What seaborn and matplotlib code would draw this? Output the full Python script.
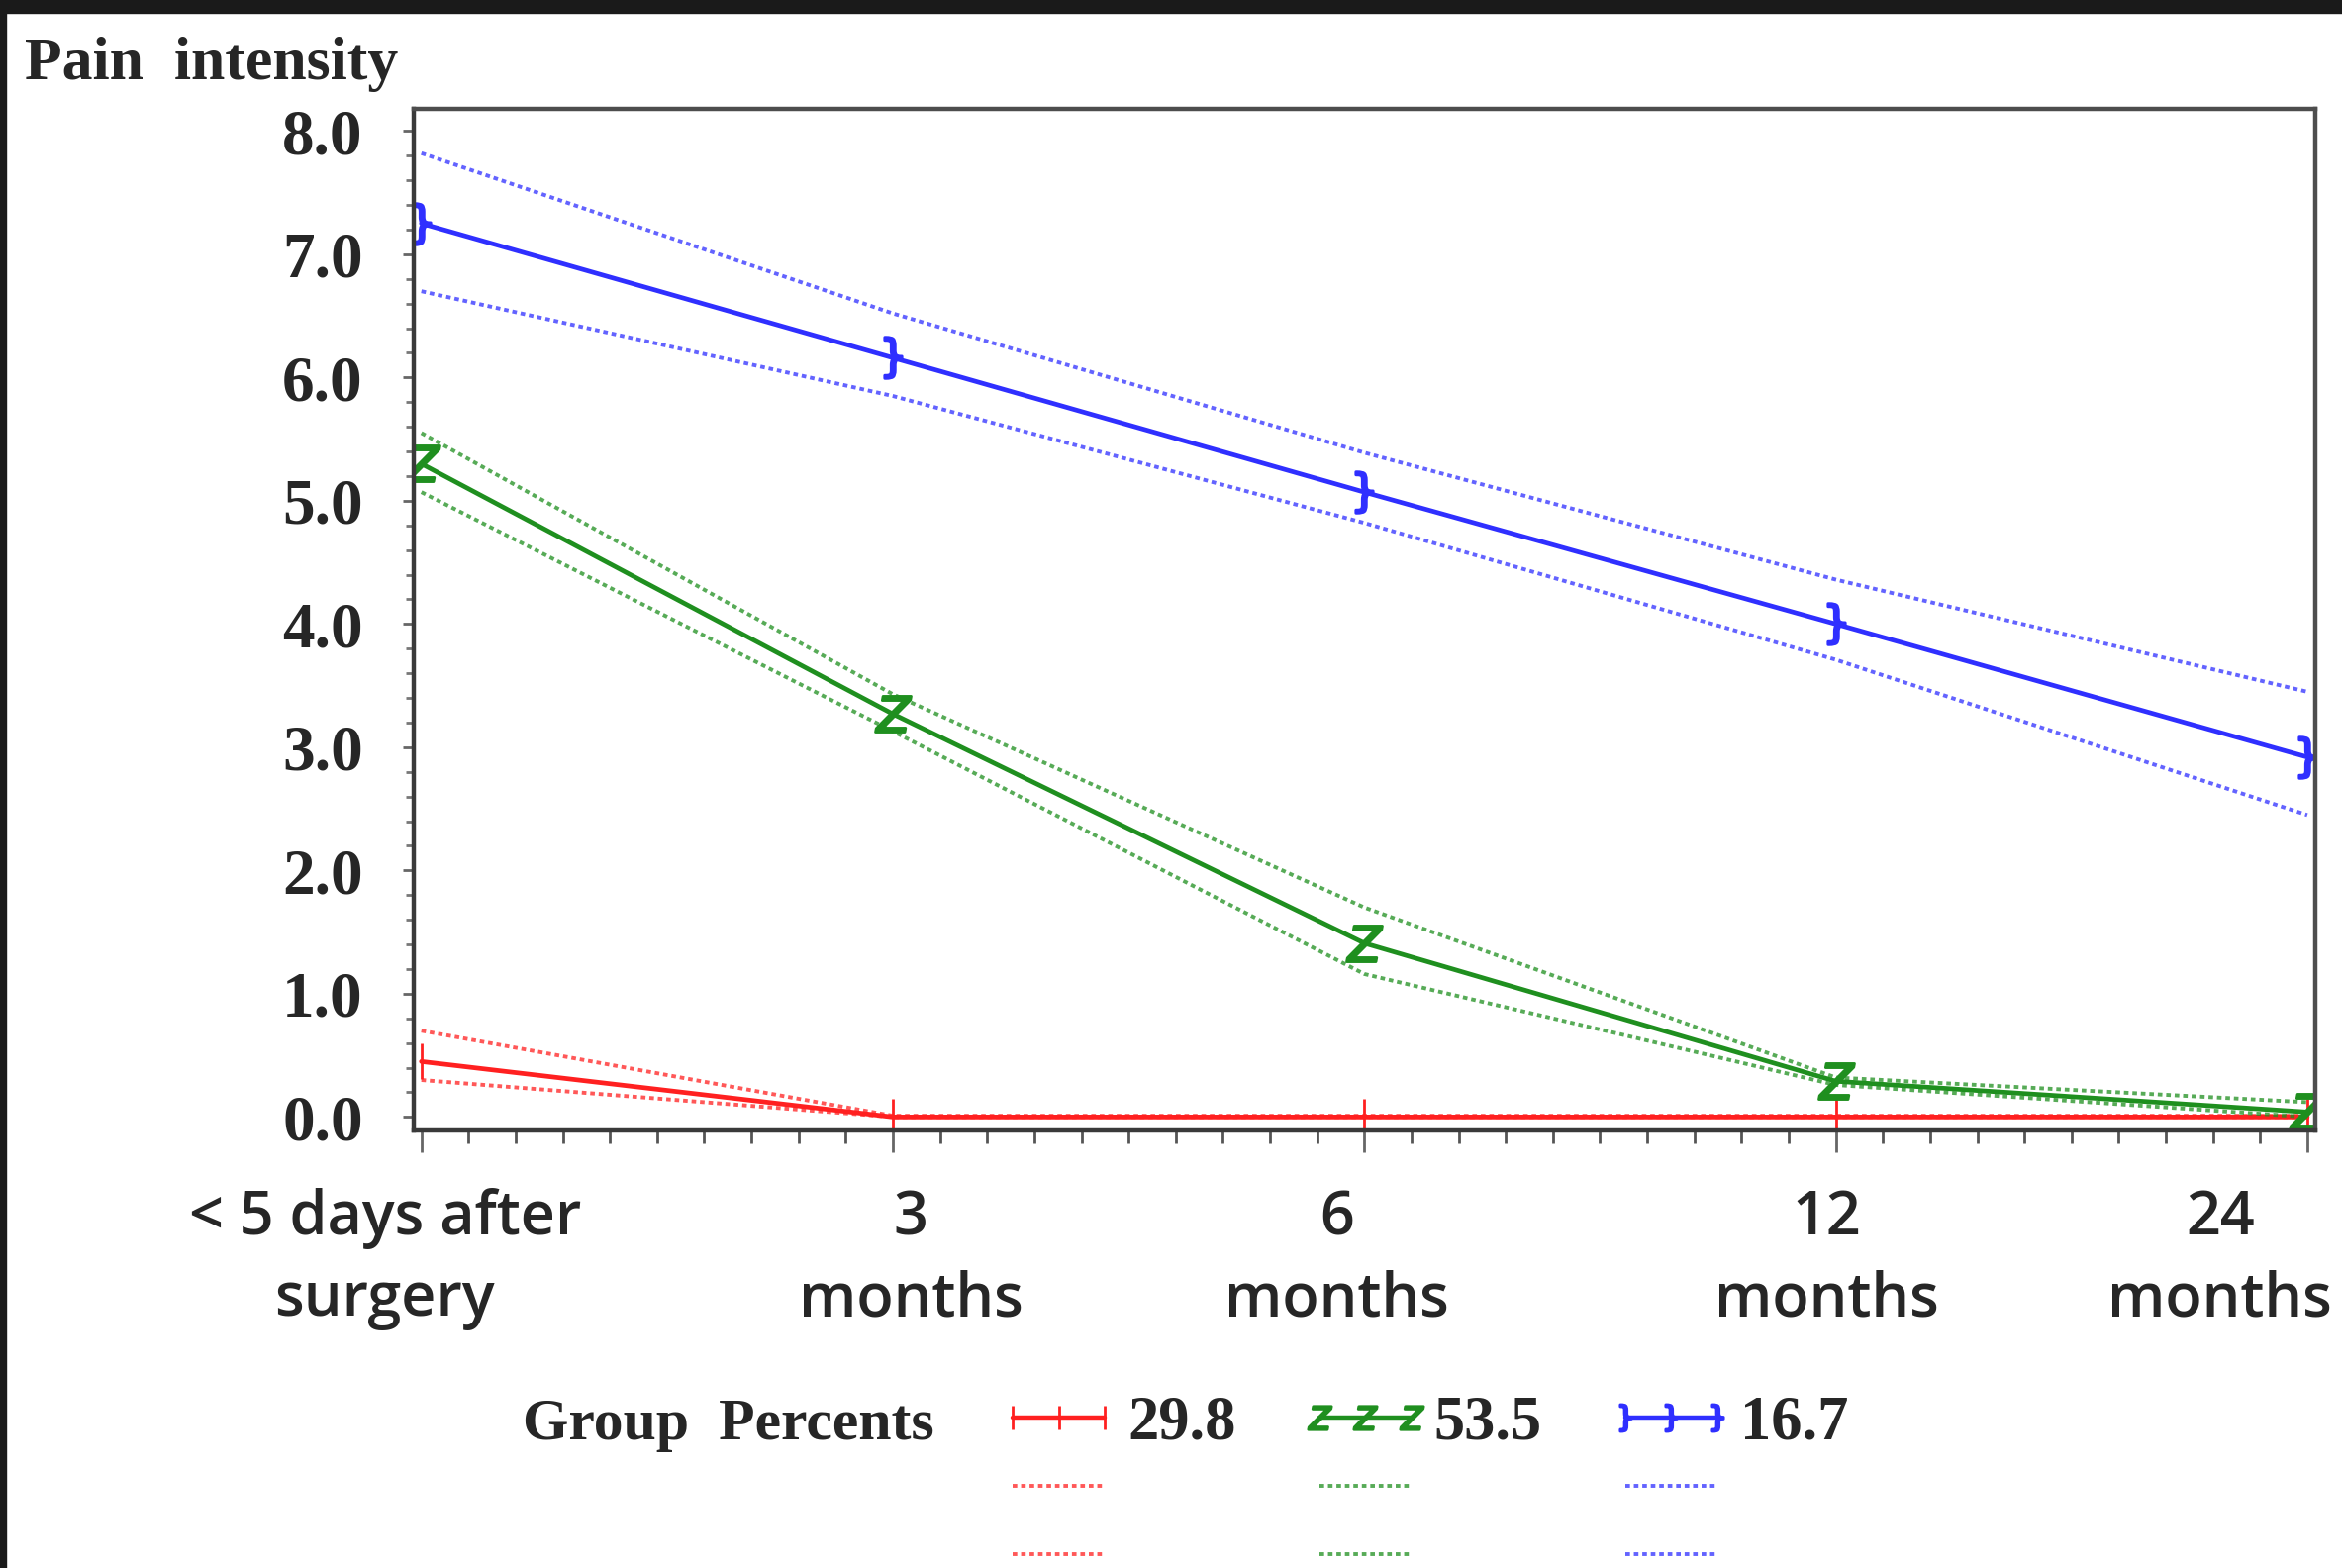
import matplotlib
matplotlib.use("Agg")
import matplotlib.pyplot as plt
import seaborn as sns
from matplotlib.transforms import ScaledTranslation
from matplotlib.lines import Line2D
from matplotlib.patches import Rectangle
from matplotlib.ticker import MultipleLocator

# ---------------- data ----------------
time_labels = ["< 5 days after\nsurgery", "3\nmonths", "6\nmonths", "12\nmonths", "24\nmonths"]
group_percents = ["29.8", "53.5", "16.7"]
y_ticks = [0.0, 1.0, 2.0, 3.0, 4.0, 5.0, 6.0, 7.0, 8.0]

red_mean = [0.45, 0.0, 0.0, 0.0, 0.0]
red_upper = [0.70, 0.01, 0.01, 0.01, 0.01]
red_lower = [0.30, 0.0, 0.0, 0.0, 0.0]

green_mean = [5.30, 3.27, 1.41, 0.29, 0.04]
green_upper = [5.55, 3.43, 1.70, 0.32, 0.12]
green_lower = [5.07, 3.13, 1.16, 0.26, 0.00]

blue_mean = [7.25, 6.16, 5.07, 4.00, 2.92]
blue_upper = [7.82, 6.52, 5.39, 4.36, 3.45]
blue_lower = [6.70, 5.85, 4.82, 3.71, 2.45]

# ---------------- style ----------------
sns.set_style("white")
plt.rcParams["font.family"] = ["Liberation Serif", "DejaVu Serif"]

RED = "#ff2020"
GREEN = "#1f8f1f"
BLUE = "#2f2fff"
SPINE = "#3a3a3a"
DOT = (0, (1.2, 1.0))

fig = plt.figure(figsize=(23.66, 15.84), dpi=100)
ax = fig.add_axes([0.1767, 0.279, 0.9886 - 0.1767, 0.9306 - 0.279])

x_pos = list(range(len(time_labels)))

series = [
    (red_mean, red_upper, red_lower, RED, "|", 26),
    (green_mean, green_upper, green_lower, GREEN, r"$Z$", 26),
    (blue_mean, blue_upper, blue_lower, BLUE, r"$\}$", 30),
]

for mean, up, lo, color, mk, ms in series:
    for band in (up, lo):
        sns.lineplot(x=x_pos, y=band, ax=ax, color=color, linestyle=DOT,
                     linewidth=2.8, alpha=0.75, legend=False)
    sns.lineplot(x=x_pos, y=mean, ax=ax, color=color, linewidth=3.4, marker=mk,
                 markersize=ms, markeredgecolor=color, markerfacecolor=color,
                 markeredgewidth=2.0, legend=False)

ax.set_xlim(-0.016, 4.017)
ax.set_ylim(-0.11, 8.18)
ax.set_xticks(x_pos)
ax.set_xticklabels(time_labels, fontfamily=["Open Sans", "DejaVu Sans"],
                   fontweight="semibold", fontsize=44, linespacing=1.42)
ax.set_yticks(y_ticks)
ax.set_yticklabels([f"{v:.1f}" for v in y_ticks], fontsize=47, fontweight="bold")
ax.xaxis.set_minor_locator(MultipleLocator(0.1))
ax.yaxis.set_minor_locator(MultipleLocator(0.2))
ax.tick_params(axis="x", which="major", direction="out", length=16, width=2,
               color="#666666", pad=26, bottom=True)
ax.tick_params(axis="x", which="minor", direction="out", length=9, width=2,
               color="#555555", bottom=True)
ax.tick_params(axis="y", which="major", direction="out", length=8, width=2,
               color="#666666", pad=29, left=True)
ax.tick_params(axis="y", which="minor", direction="out", length=6, width=2,
               color="#777777", left=True)
ax.set_xlabel("")
ax.set_ylabel("")

for side, sp in ax.spines.items():
    sp.set_visible(True)
    sp.set_linewidth(3.2)
    sp.set_color(SPINE if side in ("left", "bottom") else "#4d4d4d")

# per-label horizontal offsets (inches), as in the reference
offsets = [-0.37, 0.18, -0.28, -0.09, -0.88]
for lab, dx in zip(ax.get_xticklabels(), offsets):
    lab.set_transform(lab.get_transform() + ScaledTranslation(dx, 0, fig.dpi_scale_trans))

# y-axis title at top-left
fig.text(0.0106, 0.9495, "Pain  intensity", fontsize=44.5, fontweight="bold",
         ha="left", va="baseline")

# legend
fig.text(0.2232, 0.082, "Group  Percents", fontsize=43, fontweight="bold",
         ha="left", va="baseline")

handles, labels = [], []
for (mean, up, lo, color, mk, ms), pct in zip(series, group_percents):
    handles.append(Line2D([], [], color=color, linewidth=3.2, marker=mk, markersize=ms * 0.65,
                          markeredgecolor=color, markerfacecolor=color, markeredgewidth=2.0))
    labels.append(pct)
    for _ in range(2):
        handles.append(Line2D([], [], color=color, linewidth=2.8, alpha=0.75,
                              linestyle=DOT))
        labels.append("")

leg = fig.legend(handles, labels, ncol=3, loc="upper left",
                 bbox_to_anchor=(0.4245, 0.110), frameon=False, numpoints=3,
                 prop={"family": "Liberation Serif", "weight": "bold", "size": 45},
                 handlelength=2.09, handletextpad=0.07, columnspacing=1.04,
                 labelspacing=0.18, borderpad=0.0, borderaxespad=0.0)

# dark screenshot frame on top/left edges
fig.add_artist(Rectangle((0, 1 - 13 / 1584), 1, 13 / 1584, transform=fig.transFigure,
                         color="#1a1a1a", zorder=10))
fig.add_artist(Rectangle((0, 0), 6 / 2366, 1, transform=fig.transFigure,
                         color="#1a1a1a", zorder=10))

fig.savefig("out.png", dpi=100, facecolor="white")
